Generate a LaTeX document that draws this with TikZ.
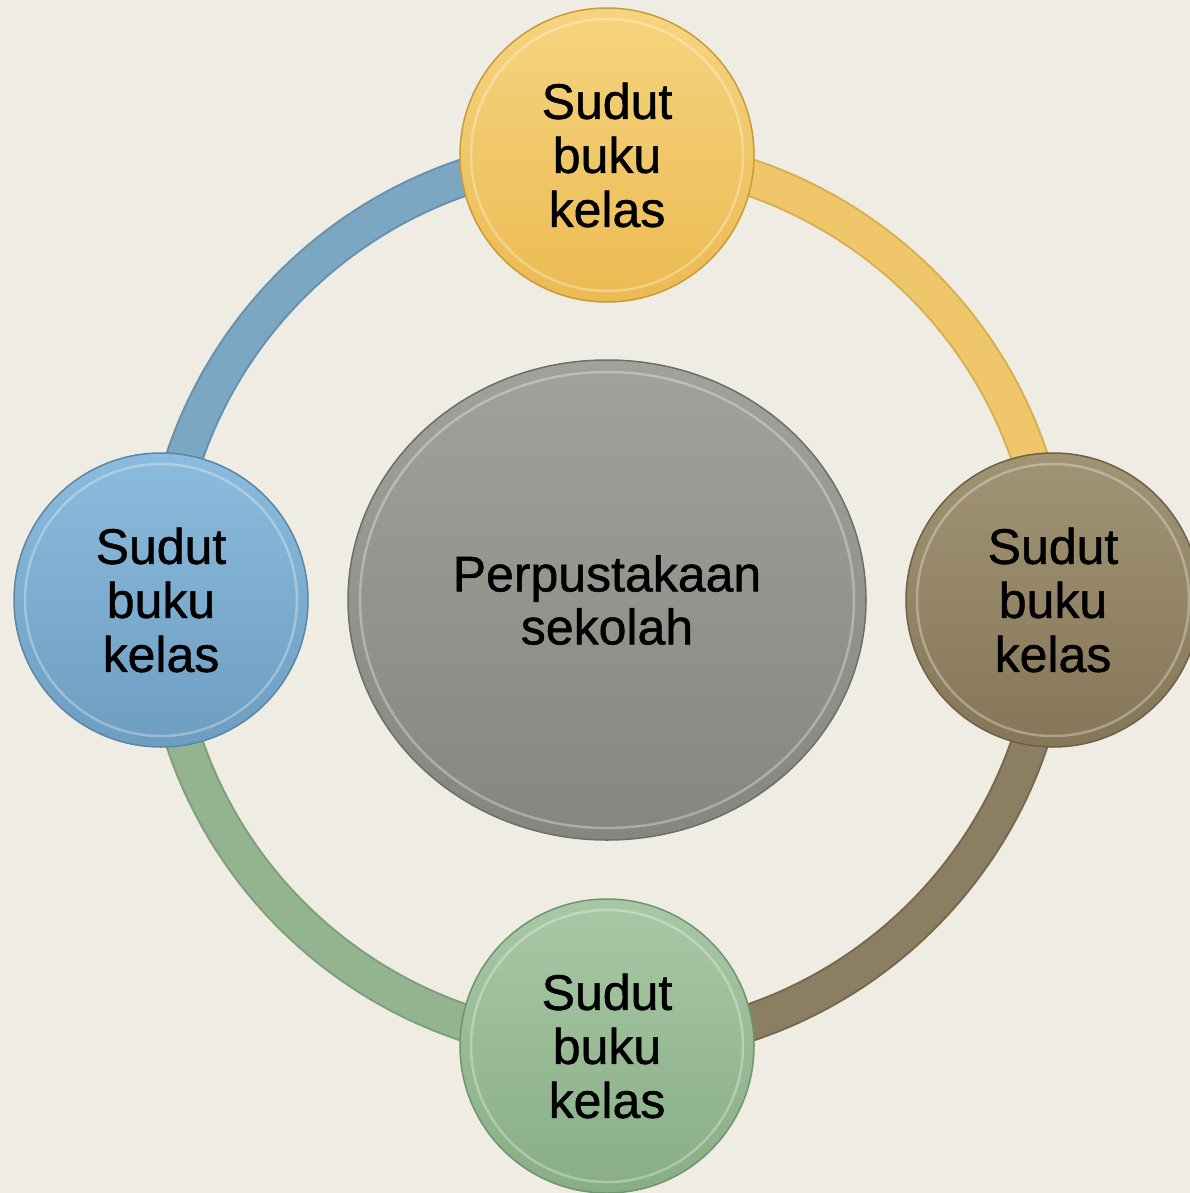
\documentclass[tikz,border=0pt]{standalone}
\usepackage{fontspec}
\setmainfont{Liberation Sans}[FakeBold=1]
\usetikzlibrary{shapes.geometric}
\definecolor{bg}{HTML}{EFECE4}
\definecolor{rblue}{HTML}{7BA7C2}\definecolor{rblueE}{HTML}{6690AD}
\definecolor{ryel}{HTML}{EFC76A}\definecolor{ryelE}{HTML}{D9AE50}
\definecolor{rbrn}{HTML}{8C7E62}\definecolor{rbrnE}{HTML}{76684D}
\definecolor{rgrn}{HTML}{93B48F}\definecolor{rgrnE}{HTML}{7C9E78}
\definecolor{cyT}{HTML}{F6D47F}\definecolor{cyB}{HTML}{EBBB52}\definecolor{cyE}{HTML}{C99A3A}
\definecolor{cbT}{HTML}{8BBBDD}\definecolor{cbB}{HTML}{6D9DC0}\definecolor{cbE}{HTML}{5A87A8}
\definecolor{cnT}{HTML}{A19474}\definecolor{cnB}{HTML}{857658}\definecolor{cnE}{HTML}{6E6046}
\definecolor{cgT}{HTML}{A8C8A5}\definecolor{cgB}{HTML}{88AE85}\definecolor{cgE}{HTML}{6F956C}
\definecolor{ccT}{HTML}{A2A29C}\definecolor{ccB}{HTML}{868680}\definecolor{ccE}{HTML}{6E6E69}
\tikzset{
  sat/.style={circle, inner sep=0pt, minimum size=294pt, align=center,
    font=\fontsize{50}{54}\selectfont, line width=1.5pt},
  ringseg/.style={line width=38pt},
  ringin/.style={line width=34pt},
  hl/.style={white, opacity=0.3, line width=2.5pt},
}
\begin{document}
\begin{tikzpicture}[x=1pt,y=-1pt]
\useasboundingbox (0,0) rectangle (1190,1193);
\fill[bg] (0,0) rectangle (1190,1193);
\coordinate (o) at (607,600);
% ring
\draw[ringseg, rblueE] ([shift={(180:446)}]o) arc (180:270:446);
\draw[ringin, rblue] ([shift={(180:446)}]o) arc (180:270:446);
\draw[ringseg, ryelE] ([shift={(270:446)}]o) arc (270:360:446);
\draw[ringin, ryel] ([shift={(270:446)}]o) arc (270:360:446);
\draw[ringseg, rbrnE] ([shift={(0:446)}]o) arc (0:90:446);
\draw[ringin, rbrn] ([shift={(0:446)}]o) arc (0:90:446);
\draw[ringseg, rgrnE] ([shift={(90:446)}]o) arc (90:180:446);
\draw[ringin, rgrn] ([shift={(90:446)}]o) arc (90:180:446);
% center
\node[ellipse, minimum width=518pt, minimum height=480pt, inner sep=0pt, align=center,
  top color=ccT, bottom color=ccB, draw=ccE, line width=1.5pt,
  font=\fontsize{50}{53}\selectfont] (c) at (o) {Perpustakaan\\sekolah};
\draw[hl] (o) ellipse (247 and 228);
% satellites
\node[sat, top color=cyT, bottom color=cyB, draw=cyE] (t) at (607,155) {Sudut\\buku\\kelas};
\node[sat, top color=cbT, bottom color=cbB, draw=cbE] (l) at (161,600) {Sudut\\buku\\kelas};
\node[sat, top color=cnT, bottom color=cnB, draw=cnE] (r) at (1053,600) {Sudut\\buku\\kelas};
\node[sat, top color=cgT, bottom color=cgB, draw=cgE] (b) at (607,1046) {Sudut\\buku\\kelas};
\foreach \n in {t,l,r,b}{\draw[hl] (\n.center) circle (136);}
\end{tikzpicture}
\end{document}
